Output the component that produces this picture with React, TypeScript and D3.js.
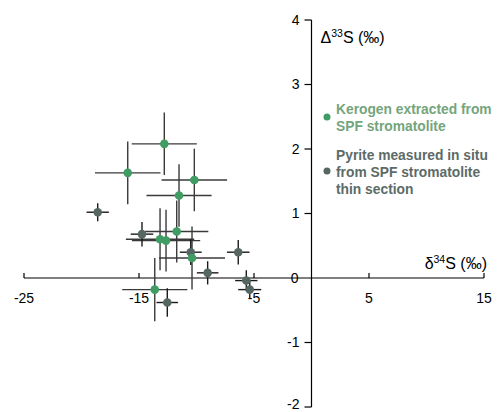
import React, { useEffect, useRef } from "react";
import * as d3 from "d3";

// kerogen extracted from SPF stromatolite
const kerogenX = [-12.8, -15.98, -10.19, -11.52, -11.72, -13.17, -12.65, -10.39, -13.63];
const kerogenY = [2.08, 1.63, 1.52, 1.28, 0.72, 0.6, 0.58, 0.31, -0.18];
const kerogenXErr = [2.83, 2.85, 2.85, 2.83, 2.75, 2.97, 2.97, 2.87, 2.83];
const kerogenYErr = [0.485, 0.485, 0.485, 0.485, 0.48, 0.48, 0.48, 0.49, 0.49];

// pyrite measured in situ
const pyriteX = [-18.59, -14.74, -10.5, -9.03, -6.37, -5.67, -5.37, -12.54];
const pyriteY = [1.02, 0.68, 0.4, 0.08, 0.4, -0.04, -0.18, -0.38];
const pyriteXErr = [0.97, 0.98, 0.95, 0.94, 0.98, 0.97, 1.0, 0.94];
const pyriteYErr = [0.14, 0.19, 0.2, 0.18, 0.19, 0.16, 0.13, 0.22];

const xTicks = [-25, -15, -5, 5, 15];
const yTicks = [-2, -1, 1, 2, 3, 4];

const legendKerogen = ["Kerogen extracted from", "SPF stromatolite"];
const legendPyrite = ["Pyrite measured in situ", "from SPF stromatolite", "thin section"];

const GREEN = "#3f9c62";
const GREY = "#566763";

export default function App() {
  const ref = useRef<SVGSVGElement | null>(null);

  useEffect(() => {
    const svg = d3.select(ref.current);
    svg.selectAll("*").remove();

    const x = d3.scaleLinear().domain([-25, 15]).range([24, 484]);
    const y = d3.scaleLinear().domain([-2, 4]).range([407, 20]);
    const font = "'Liberation Sans', Arial, sans-serif";

    // axes
    svg.append("line")
      .attr("x1", x(-25)).attr("x2", x(15))
      .attr("y1", y(0)).attr("y2", y(0))
      .attr("stroke", "#000").attr("stroke-width", 1.2);
    svg.append("line")
      .attr("x1", x(0)).attr("x2", x(0))
      .attr("y1", y(-2)).attr("y2", y(4))
      .attr("stroke", "#000").attr("stroke-width", 1.2);

    xTicks.forEach((t) => {
      svg.append("line")
        .attr("x1", x(t)).attr("x2", x(t))
        .attr("y1", y(0)).attr("y2", y(0) - 5)
        .attr("stroke", "#000").attr("stroke-width", 1.2);
      svg.append("text")
        .attr("x", x(t)).attr("y", y(0) + 25)
        .attr("text-anchor", "middle")
        .attr("font-family", font).attr("font-size", 14)
        .text(t);
    });

    yTicks.forEach((t) => {
      svg.append("line")
        .attr("x1", x(0) - 7).attr("x2", x(0))
        .attr("y1", y(t)).attr("y2", y(t))
        .attr("stroke", "#000").attr("stroke-width", 1.2);
      svg.append("text")
        .attr("x", x(0) - 12).attr("y", Math.min(y(t) + 4.5, 409))
        .attr("text-anchor", "end")
        .attr("font-family", font).attr("font-size", 14)
        .text(t);
    });
    svg.append("text")
      .attr("x", x(0) - 13).attr("y", y(0) + 5)
      .attr("text-anchor", "end")
      .attr("font-family", font).attr("font-size", 14)
      .text(0);

    // axis titles
    const yt = svg.append("text")
      .attr("x", x(0) + 9).attr("y", 43)
      .attr("font-family", font).attr("font-size", 16);
    yt.append("tspan").text("Δ");
    yt.append("tspan").attr("font-size", 10.5).attr("dy", -6).text("33");
    yt.append("tspan").attr("dy", 6).text("S (‰)");

    const xt = svg.append("text")
      .attr("x", 487).attr("y", 269)
      .attr("text-anchor", "end")
      .attr("font-family", font).attr("font-size", 16);
    xt.append("tspan").text("δ");
    xt.append("tspan").attr("font-size", 10.5).attr("dy", -6).text("34");
    xt.append("tspan").attr("dy", 6).text("S (‰)");

    // error bars
    const bars = (xs: number[], ys: number[], xe: number[], ye: number[], color: string) => {
      const g = svg.append("g").attr("stroke", color).attr("stroke-width", 1.4);
      xs.forEach((v, i) => {
        g.append("line")
          .attr("x1", x(v - xe[i])).attr("x2", x(v + xe[i]))
          .attr("y1", y(ys[i])).attr("y2", y(ys[i]));
        g.append("line")
          .attr("x1", x(v)).attr("x2", x(v))
          .attr("y1", y(ys[i] - ye[i])).attr("y2", y(ys[i] + ye[i]));
      });
    };
    bars(kerogenX, kerogenY, kerogenXErr, kerogenYErr, "#3a3a3a");
    bars(pyriteX, pyriteY, pyriteXErr, pyriteYErr, "#1a1a1a");

    // points
    svg.append("g").selectAll("circle")
      .data(pyriteX.map((v, i) => [v, pyriteY[i]]))
      .join("circle")
      .attr("cx", (d) => x(d[0])).attr("cy", (d) => y(d[1]))
      .attr("r", 4.3).attr("fill", GREY);
    svg.append("g").selectAll("circle")
      .data(kerogenX.map((v, i) => [v, kerogenY[i]]))
      .join("circle")
      .attr("cx", (d) => x(d[0])).attr("cy", (d) => y(d[1]))
      .attr("r", 4.3).attr("fill", GREEN);

    // legend
    svg.append("circle").attr("cx", 327).attr("cy", 117).attr("r", 3.5).attr("fill", GREEN);
    legendKerogen.forEach((s, i) => {
      svg.append("text")
        .attr("x", 336).attr("y", 114 + i * 17)
        .attr("font-family", font).attr("font-size", 13.8).attr("font-weight", "bold")
        .attr("fill", "#74a57c")
        .text(s);
    });
    svg.append("circle").attr("cx", 327).attr("cy", 171).attr("r", 3.5).attr("fill", GREY);
    legendPyrite.forEach((s, i) => {
      svg.append("text")
        .attr("x", 336).attr("y", 160 + i * 17)
        .attr("font-family", font).attr("font-size", 13.8).attr("font-weight", "bold")
        .attr("fill", "#5c6b67")
        .text(s);
    });
  }, []);

  return (
    <svg
      ref={ref}
      width={500}
      height={412}
      style={{ position: "absolute", left: 0, top: 0, background: "#fff" }}
    />
  );
}
